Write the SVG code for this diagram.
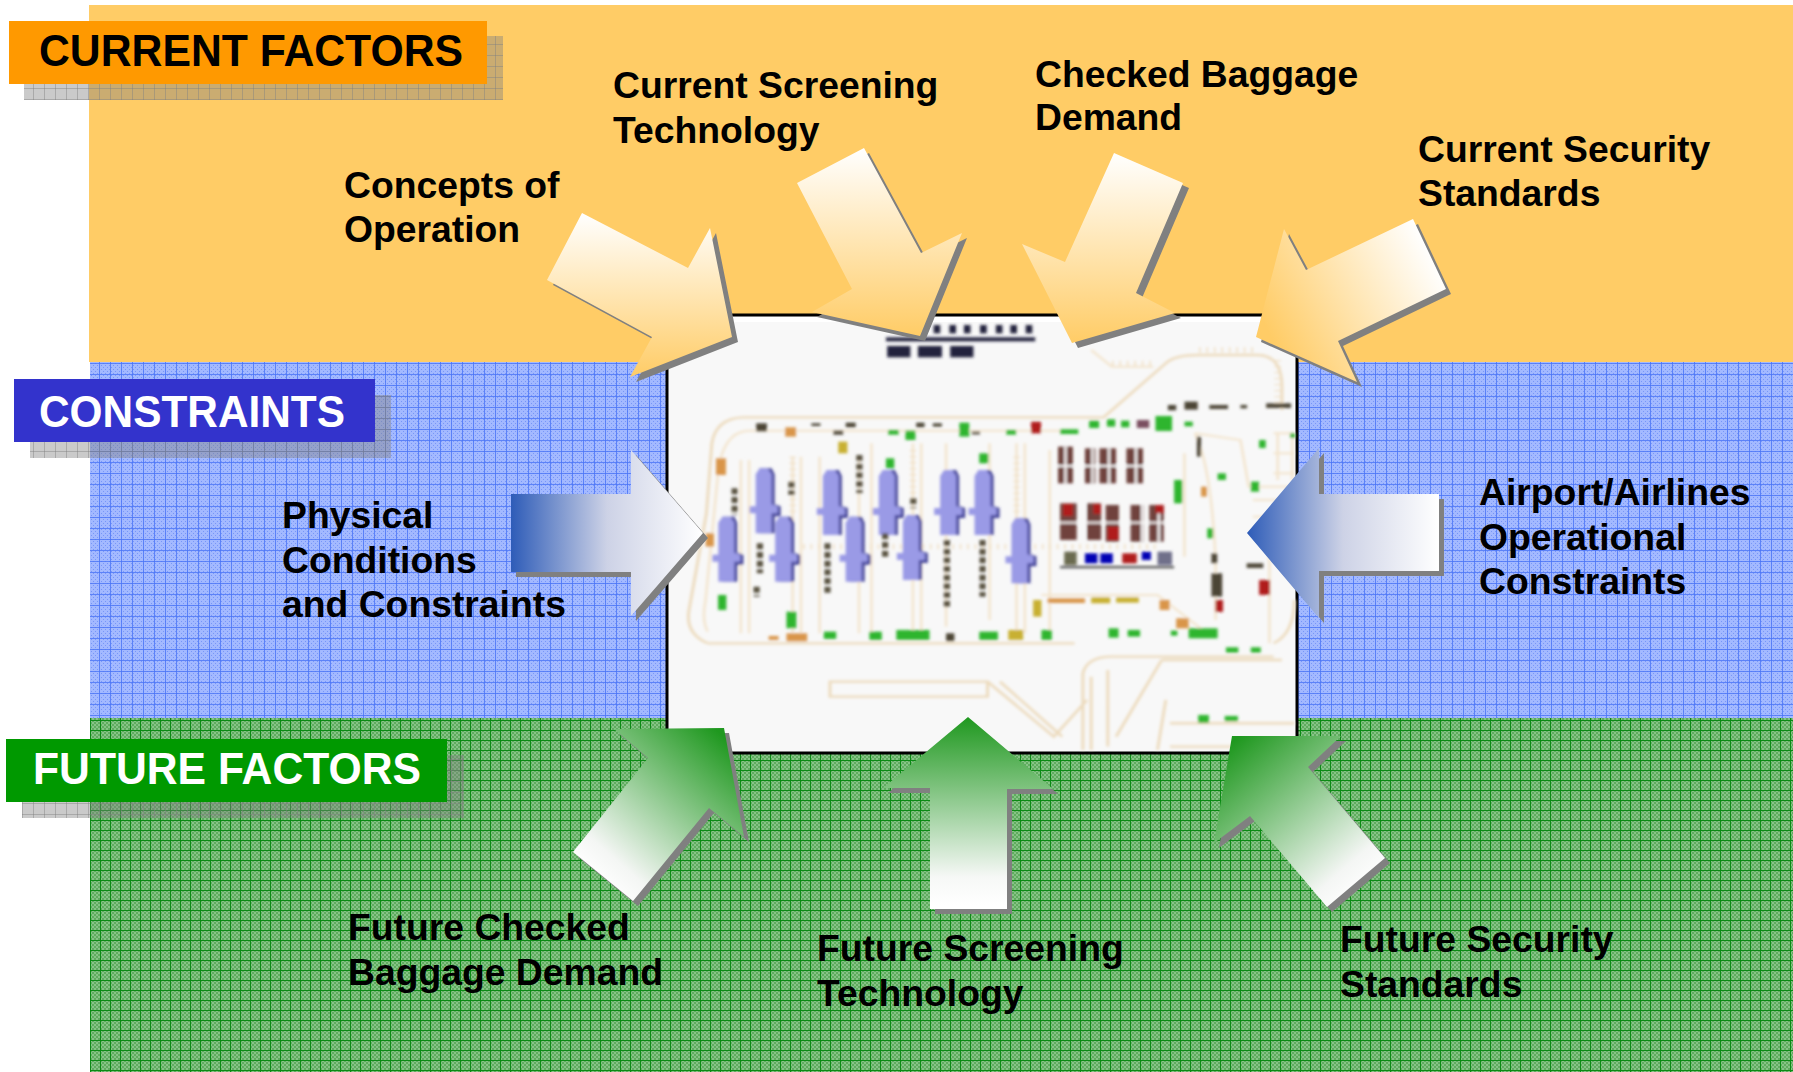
<svg xmlns="http://www.w3.org/2000/svg" width="1793" height="1072" viewBox="0 0 1793 1072">
<style>
.lb{font-family:"Liberation Sans",Arial,sans-serif;font-weight:bold;font-size:37.3px;fill:#000}
.hd{font-family:"Liberation Sans",Arial,sans-serif;font-weight:bold;font-size:44px}
.sh{fill:#808080}
.road{fill:none;stroke:#ecdabc;stroke-width:7}
.road2{fill:none;stroke:#f3e4cc;stroke-width:6}
.tie{fill:none;stroke:#f0dfc4;stroke-width:16;stroke-dasharray:4 14}
.dash{fill:none;stroke:#5a5240;stroke-width:15;stroke-dasharray:18 8}
.dk{fill:#4c4535}.gn{fill:#2fb52f}.or{fill:#d9954a}.yl{fill:#c8b030}.rd{fill:#b01c1c}.bl{fill:#0000b4}.nv{fill:#20203c}.pl{fill:#9a9ae6}.pd{fill:#45459a}
</style>
<defs>
<pattern id="bd" width="4" height="4" patternUnits="userSpaceOnUse"><rect width="4" height="4" fill="#a3b9ff"/><rect x="1" y="1" width="1" height="1" fill="#7896f8"/><rect x="3" y="3" width="1" height="1" fill="#7896f8"/></pattern>
<pattern id="bg" width="11" height="11" patternUnits="userSpaceOnUse"><path d="M0.5,0V11M0,0.5H11" stroke="#4a74f6" stroke-opacity=".8" stroke-width="1" fill="none"/></pattern>
<pattern id="gd" width="4" height="4" patternUnits="userSpaceOnUse"><rect width="4" height="4" fill="#86c486"/><rect x="0" y="0" width="2" height="2" fill="#5fab5f"/><rect x="2" y="2" width="2" height="2" fill="#5fab5f"/></pattern>
<pattern id="gg" width="10" height="10" patternUnits="userSpaceOnUse"><path d="M0.5,0V10M0,0.5H10" stroke="#0b8a14" stroke-width="1" fill="none"/></pattern>
<pattern id="sg" width="11" height="11" patternUnits="userSpaceOnUse"><rect width="11" height="11" fill="#808080" fill-opacity=".42"/><path d="M0.5,0V11M0,0.5H11" stroke="#808080" stroke-opacity=".45" stroke-width="1" fill="none"/></pattern>
<filter id="blur" x="-5%" y="-5%" width="110%" height="110%"><feGaussianBlur stdDeviation="1.4"/></filter>
<linearGradient id="o1" gradientUnits="userSpaceOnUse" x1="0" y1="213" x2="0" y2="377"><stop offset="0" stop-color="#fff"/><stop offset="1" stop-color="#ffcc66"/></linearGradient>
<linearGradient id="o2" gradientUnits="userSpaceOnUse" x1="0" y1="148" x2="0" y2="336"><stop offset="0" stop-color="#fff"/><stop offset="1" stop-color="#ffcc66"/></linearGradient>
<linearGradient id="o3" gradientUnits="userSpaceOnUse" x1="0" y1="153" x2="0" y2="343"><stop offset="0" stop-color="#fff"/><stop offset="1" stop-color="#ffcc66"/></linearGradient>
<linearGradient id="o4" gradientUnits="userSpaceOnUse" x1="1430" y1="250" x2="1270" y2="335"><stop offset="0" stop-color="#fff"/><stop offset="1" stop-color="#ffcc66"/></linearGradient>
<linearGradient id="bl" gradientUnits="userSpaceOnUse" x1="511" y1="0" x2="703" y2="0"><stop offset="0" stop-color="#2e5cb8"/><stop offset=".5" stop-color="#cdd2e6"/><stop offset="1" stop-color="#fff"/></linearGradient>
<linearGradient id="br" gradientUnits="userSpaceOnUse" x1="1247" y1="0" x2="1439" y2="0"><stop offset="0" stop-color="#2e5cb8"/><stop offset=".5" stop-color="#cdd2e6"/><stop offset="1" stop-color="#fff"/></linearGradient>
<linearGradient id="g1" gradientUnits="userSpaceOnUse" x1="722" y1="735" x2="595" y2="880"><stop offset="0" stop-color="#1f981f"/><stop offset=".85" stop-color="#f4f6f4"/><stop offset="1" stop-color="#fff"/></linearGradient>
<linearGradient id="g2" gradientUnits="userSpaceOnUse" x1="0" y1="717" x2="0" y2="905"><stop offset="0" stop-color="#1f981f"/><stop offset=".85" stop-color="#f6f8f6"/><stop offset="1" stop-color="#fff"/></linearGradient>
<linearGradient id="g3" gradientUnits="userSpaceOnUse" x1="1235" y1="740" x2="1365" y2="890"><stop offset="0" stop-color="#1f981f"/><stop offset=".85" stop-color="#f4f6f4"/><stop offset="1" stop-color="#fff"/></linearGradient>
<polygon id="a1" points="582,213 688,268 710,228 732,337 630,377 652,337 547,280"/>
<polygon id="a2" points="864,148 921,253 962,233 920,336 812,312 852,289 797,183"/>
<polygon id="a3" points="1114,153 1183,183 1136,293 1175,313 1072,343 1022,244 1065,262"/>
<polygon id="a4" points="1413,219 1446,289 1338,341 1357,382 1256,337 1284,229 1306,270"/>
<polygon id="a5" points="511,494 631,494 631,450 703,533 631,616 631,572 511,572"/>
<polygon id="a6" points="1247,533 1319,448 1319,494 1439,494 1439,571 1319,571 1319,618"/>
<polygon id="a7" points="724,728 744,837 709,808 633,901 573,852 648,758 614,729"/>
<polygon id="a8" points="968,717 1053,789 1007,789 1007,909 930,909 930,788 883,788"/>
<polygon id="a9" points="1232,736 1341,736 1308,767 1385,858 1327,907 1250,816 1214,843"/>
<g id="plane"><path class="pd" d="M-6,0H6L9,6V36L15,38V48H9V65H-6Z" transform="translate(2,0)"/><path class="pl" d="M-4,0H4L8,6V36L14,38V45H8V65H-8V45H-14V38H-8V6Z"/></g>
</defs>

<g id="bands">
<rect id="band-current" x="89" y="5" width="1704" height="357" fill="#ffcc66"/>
<rect x="90" y="362" width="1703" height="356" fill="url(#bd)"/><rect id="band-constraints" x="90" y="362" width="1703" height="356" fill="url(#bg)"/>
<rect x="90" y="718" width="1703" height="354" fill="url(#gd)"/><rect id="band-future" x="90" y="718" width="1703" height="354" fill="url(#gg)"/>
</g>

<g id="head-current"><rect x="24" y="36" width="479" height="64" fill="url(#sg)"/><rect x="9" y="21" width="478" height="63" fill="#ff9900"/><text class="hd" x="39" y="66" fill="#000" textLength="424" lengthAdjust="spacingAndGlyphs">CURRENT FACTORS</text></g>
<g id="head-constraints"><rect x="30" y="395" width="361" height="63" fill="url(#sg)"/><rect x="14" y="379" width="361" height="63" fill="#3333cc"/><text class="hd" x="39" y="427" fill="#fff" textLength="306" lengthAdjust="spacingAndGlyphs">CONSTRAINTS</text></g>
<g id="head-future"><rect x="22" y="755" width="442" height="63" fill="url(#sg)"/><rect x="6" y="739" width="441" height="63" fill="#009900"/><text class="hd" x="33" y="784" fill="#fff" textLength="388" lengthAdjust="spacingAndGlyphs">FUTURE FACTORS</text></g>

<g id="layout-picture">
<rect x="667" y="315" width="630" height="438" fill="#f8f8f8" stroke="#000" stroke-width="3"/>
<rect x="669" y="317" width="626" height="5" fill="#fff"/>
<g filter="url(#blur)"><g transform="translate(660,300) scale(.4146,.3333)">
<path class="road" d="M115,1030H1000M115,1030Q60,1000 70,930L112,640L125,430Q135,355 200,352H1070L1220,190Q1240,165 1300,165H1440Q1500,165 1500,260V330"/>
<path class="road2" d="M115,995Q100,960 110,900L140,520Q150,400 210,392H1000M1040,150L1090,200H1190M1290,400L1400,420L1420,560L1530,560M1480,400H1530M1480,460H1530M1480,520H1530M1490,400V540M1525,400V540M1430,600H1530M1430,650H1530M1430,700H1530"/>
<path class="road2" d="M195,480V1000M215,480V1000M320,470V1000M340,470V1000M385,470V1000M480,470V1000M510,430V1000M610,430V1000M630,430V1000M690,430V980M795,430V960M860,430V1000M880,430V1000M940,450V1000M1265,460V770"/>
<path class="tie" d="M320,470V640M610,450V600M860,470V640M1490,180V320M1090,190H1190M1300,150H1430M345,740H1200"/>
<path class="road" d="M1020,1350V1120Q1030,1070 1090,1070H1480M1040,1350V1130M1080,1340V1110M410,1145H790V1190H410ZM790,1145L950,1310L1030,1200M820,1145L970,1310M1210,1080L1100,1310M1230,1270H1530M1230,1340H1530M1210,1080H1500M1200,1350L1220,1200M1480,1030Q1530,1000 1530,900"/>
<path class="road2" d="M920,885H1200L1330,1010M1340,780V960M1470,760V1030M1290,400Q1330,500 1340,780"/>
<use href="#plane" transform="translate(160,650) scale(2.41,3)"/><use href="#plane" transform="translate(250,505) scale(2.41,3)"/><use href="#plane" transform="translate(297,650) scale(2.41,3)"/><use href="#plane" transform="translate(412,510) scale(2.41,3)"/><use href="#plane" transform="translate(467,650) scale(2.41,3)"/><use href="#plane" transform="translate(547,510) scale(2.41,3)"/><use href="#plane" transform="translate(605,645) scale(2.41,3)"/><use href="#plane" transform="translate(695,510) scale(2.41,3)"/><use href="#plane" transform="translate(778,510) scale(2.41,3)"/><use href="#plane" transform="translate(867,655) scale(2.41,3)"/>
<path class="dash" d="M180,565V645M317,545V585M481,465V580M611,595V625M241,730V820M233,860V890M404,730V885M543,700V770M692,720V920M778,720V890"/>
<g class="dk"><rect x="232" y="370" width="26" height="24"/><rect x="365" y="370" width="22" height="8"/><rect x="418" y="392" width="24" height="12"/><rect x="448" y="368" width="24" height="14"/><rect x="618" y="368" width="20" height="14"/><rect x="658" y="370" width="22" height="10"/><rect x="752" y="395" width="20" height="8"/><rect x="1225" y="315" width="20" height="16"/><rect x="1265" y="305" width="32" height="24"/><rect x="1325" y="315" width="45" height="12"/><rect x="1400" y="315" width="16" height="10"/><rect x="1462" y="310" width="60" height="14"/><rect x="1295" y="410" width="10" height="60"/><rect x="1330" y="760" width="14" height="30"/><rect x="1330" y="820" width="26" height="70"/><rect x="1415" y="790" width="40" height="14"/><rect x="690" y="1000" width="20" height="24"/></g>
<g class="gn"><rect x="550" y="390" width="26" height="14"/><rect x="592" y="392" width="24" height="28"/><rect x="722" y="368" width="24" height="42"/><rect x="835" y="390" width="24" height="14"/><rect x="965" y="388" width="44" height="14"/><rect x="1035" y="362" width="24" height="22"/><rect x="1078" y="358" width="20" height="22"/><rect x="1112" y="362" width="20" height="20"/><rect x="1195" y="348" width="40" height="45"/><rect x="1265" y="365" width="20" height="14"/><rect x="545" y="475" width="20" height="30"/><rect x="770" y="460" width="22" height="30"/><rect x="140" y="885" width="20" height="45"/><rect x="305" y="935" width="24" height="50"/><rect x="395" y="995" width="30" height="22"/><rect x="505" y="995" width="30" height="25"/><rect x="570" y="990" width="80" height="30"/><rect x="770" y="995" width="45" height="25"/><rect x="920" y="990" width="25" height="30"/><rect x="1082" y="985" width="24" height="28"/><rect x="1128" y="990" width="30" height="20"/><rect x="1232" y="992" width="16" height="15"/><rect x="1275" y="985" width="70" height="30"/><rect x="1365" y="1042" width="30" height="16"/><rect x="1425" y="1042" width="24" height="16"/><rect x="1298" y="1245" width="26" height="24"/><rect x="1362" y="1248" width="32" height="16"/><rect x="1240" y="540" width="20" height="70"/><rect x="1345" y="520" width="20" height="20"/><rect x="1425" y="545" width="20" height="30"/><rect x="1445" y="420" width="16" height="24"/><rect x="1320" y="685" width="14" height="30"/><rect x="1520" y="400" width="12" height="14"/></g>
<g class="or"><rect x="302" y="382" width="26" height="28"/><rect x="135" y="475" width="24" height="50"/><rect x="110" y="700" width="20" height="40"/><rect x="305" y="1000" width="50" height="24"/><rect x="262" y="1008" width="24" height="12"/><rect x="1305" y="560" width="14" height="30"/><rect x="1205" y="900" width="24" height="30"/><rect x="1245" y="955" width="30" height="30"/><rect x="935" y="895" width="90" height="14"/></g>
<g class="yl"><rect x="430" y="425" width="22" height="35"/><rect x="900" y="900" width="20" height="50"/><rect x="840" y="990" width="36" height="30"/><rect x="1040" y="892" width="46" height="18"/><rect x="1100" y="892" width="55" height="16"/></g>
<g class="rd"><rect x="895" y="365" width="24" height="35"/><rect x="1445" y="840" width="26" height="45"/><rect x="1340" y="900" width="18" height="36"/><rect x="1120" y="765" width="28" height="20"/></g>
<rect x="1150" y="360" width="30" height="24" fill="#7a5060"/>
<g fill="#70423c"><rect x="960" y="440" width="36" height="110"/><rect x="1025" y="445" width="25" height="105"/><rect x="1060" y="445" width="40" height="105"/><rect x="1125" y="445" width="40" height="105"/><rect x="965" y="610" width="40" height="110"/><rect x="1030" y="610" width="34" height="110"/><rect x="1075" y="615" width="32" height="110"/><rect x="1135" y="615" width="32" height="110"/><rect x="1180" y="615" width="35" height="110"/></g>
<g fill="#f8f8f8"><rect x="975" y="440" width="6" height="110"/><rect x="1040" y="445" width="6" height="105"/><rect x="1080" y="445" width="6" height="105"/><rect x="1145" y="445" width="6" height="105"/><rect x="1020" y="610" width="6" height="110"/><rect x="1160" y="615" width="6" height="110"/><rect x="1200" y="615" width="6" height="110"/><rect x="960" y="495" width="210" height="6"/><rect x="965" y="665" width="255" height="6"/></g>
<g class="rd"><rect x="972" y="612" width="24" height="36"/><rect x="1080" y="680" width="26" height="40"/><rect x="1045" y="612" width="18" height="30"/><rect x="1195" y="615" width="20" height="25"/></g>
<rect x="965" y="798" width="275" height="7" fill="#555"/>
<rect x="975" y="755" width="30" height="40" fill="#6a6a50"/><rect class="bl" x="1025" y="760" width="30" height="30"/><rect class="bl" x="1062" y="760" width="30" height="30"/><rect class="rd" x="1115" y="760" width="35" height="30"/><rect class="bl" x="1162" y="755" width="22" height="25"/><rect x="1200" y="755" width="35" height="40" fill="#70708a"/>
<g class="nv"><rect x="545" y="112" width="360" height="12"/><rect x="660" y="75" width="16" height="25"/><rect x="698" y="75" width="16" height="25"/><rect x="733" y="75" width="16" height="25"/><rect x="772" y="75" width="16" height="25"/><rect x="810" y="75" width="16" height="25"/><rect x="845" y="75" width="16" height="25"/><rect x="882" y="75" width="16" height="25"/><rect x="548" y="138" width="56" height="34"/><rect x="622" y="138" width="58" height="34"/><rect x="700" y="138" width="56" height="34"/></g>
</g></g>
</g>

<g id="connectors">
<g id="arrow-concepts"><use href="#a1" class="sh" transform="translate(6,5)"/><use href="#a1" fill="url(#o1)"/></g>
<g id="arrow-screening"><use href="#a2" class="sh" transform="translate(5,5)"/><use href="#a2" fill="url(#o2)"/></g>
<g id="arrow-baggage"><use href="#a3" class="sh" transform="translate(6,5)"/><use href="#a3" fill="url(#o3)"/></g>
<g id="arrow-security"><use href="#a4" class="sh" transform="translate(5,5)"/><use href="#a4" fill="url(#o4)"/></g>
<g id="arrow-physical"><use href="#a5" class="sh" transform="translate(5,5)"/><use href="#a5" fill="url(#bl)"/></g>
<g id="arrow-airport"><use href="#a6" class="sh" transform="translate(5,5)"/><use href="#a6" fill="url(#br)"/></g>
<g id="arrow-future-baggage"><use href="#a7" class="sh" transform="translate(5,5)"/><use href="#a7" fill="url(#g1)"/></g>
<g id="arrow-future-screening"><use href="#a8" class="sh" transform="translate(5,5)"/><use href="#a8" fill="url(#g2)"/></g>
<g id="arrow-future-security"><use href="#a9" class="sh" transform="translate(5,5)"/><use href="#a9" fill="url(#g3)"/></g>
</g>

<g id="labels">
<g id="label-concepts"><text class="lb" x="344" y="198">Concepts of</text><text class="lb" x="344" y="242">Operation</text></g>
<g id="label-screening"><text class="lb" x="613" y="98">Current Screening</text><text class="lb" x="613" y="143">Technology</text></g>
<g id="label-baggage"><text class="lb" x="1035" y="87">Checked Baggage</text><text class="lb" x="1035" y="130">Demand</text></g>
<g id="label-security"><text class="lb" x="1418" y="162">Current Security</text><text class="lb" x="1418" y="206">Standards</text></g>
<g id="label-physical"><text class="lb" x="282" y="528">Physical</text><text class="lb" x="282" y="573">Conditions</text><text class="lb" x="282" y="617">and Constraints</text></g>
<g id="label-airport"><text class="lb" x="1479" y="505">Airport/Airlines</text><text class="lb" x="1479" y="550">Operational</text><text class="lb" x="1479" y="594">Constraints</text></g>
<g id="label-future-baggage"><text class="lb" x="348" y="940">Future Checked</text><text class="lb" x="348" y="985">Baggage Demand</text></g>
<g id="label-future-screening"><text class="lb" x="817" y="961">Future Screening</text><text class="lb" x="817" y="1006">Technology</text></g>
<g id="label-future-security"><text class="lb" x="1340" y="952">Future Security</text><text class="lb" x="1340" y="997">Standards</text></g>
</g>
</svg>
